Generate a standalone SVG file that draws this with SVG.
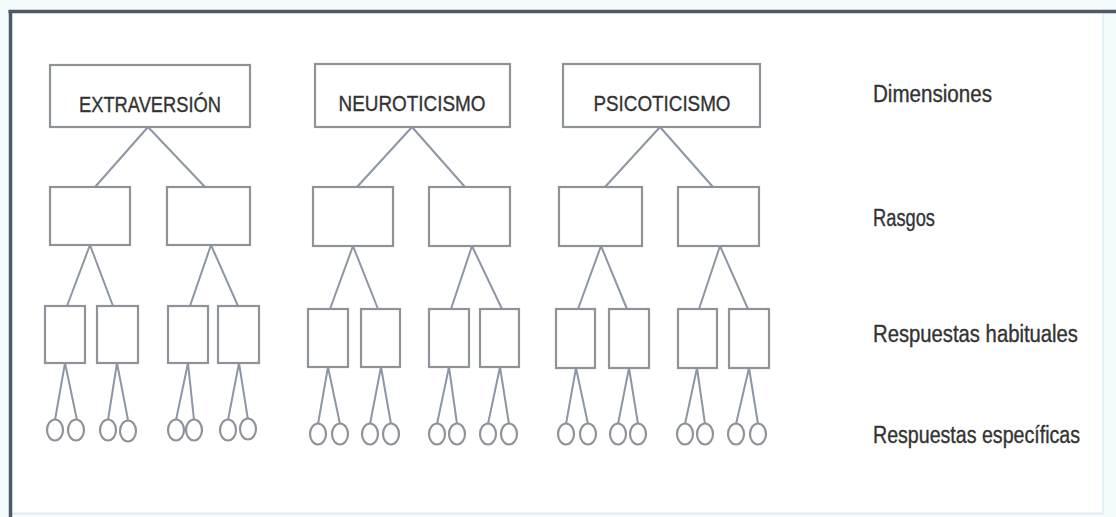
<svg xmlns="http://www.w3.org/2000/svg" width="1116" height="517" viewBox="0 0 1116 517">
<style>
.bx{fill:#ffffff;stroke:#8e9299;stroke-width:2.2}
.ln{stroke:#8c96a4;stroke-width:2;fill:none}
.ci{fill:#ffffff;stroke:#8e9299;stroke-width:2.2}
.t{font-family:"Liberation Sans",Arial,sans-serif;fill:#333333;stroke:#333333;stroke-width:0.35}
.tt{font-size:22px}
.lb{font-size:23px}
</style>
<rect x="0" y="0" width="1116" height="517" fill="#f4fbfd"/>
<rect x="10.5" y="11.5" width="1092" height="502" fill="#ffffff"/>
<line x1="1103" y1="12" x2="1103" y2="514" stroke="#e4f2f8" stroke-width="2"/>
<line x1="10" y1="513.5" x2="1103" y2="513.5" stroke="#dcecf3" stroke-width="2"/>
<line x1="8.5" y1="11.5" x2="1116" y2="11.5" stroke="#4c5a68" stroke-width="3.5"/>
<line x1="10.5" y1="10" x2="10.5" y2="517" stroke="#4c5a68" stroke-width="3.5"/>

<g id="connectors">
<path class="ln" d="M148 127L95 187M148 127L205 187"/>
<path class="ln" d="M412 127L357 187M412 127L465 187"/>
<path class="ln" d="M660 127L605 187M660 127L713 187"/>
<path class="ln" d="M90 245L67 306M90 245L113 306M211 245L190 306M211 245L238 306"/>
<path class="ln" d="M353 246L330 309M353 246L378 309M472 246L451 309M472 246L502 309"/>
<path class="ln" d="M601 246L578 309M601 246L627 309M720 246L699 309M720 246L748 309"/>
<path class="ln" d="M65 363L55 420M65 363L77 420M117 363L108 420M117 363L128 420M188 363L176 420M188 363L194 420M239 363L228 420M239 363L248 420"/>
<path class="ln" d="M328 367L318 424M328 367L340 424M381 367L370 424M381 367L391 424M449 367L437 424M449 367L457 424M500 367L488 424M500 367L509 424"/>
<path class="ln" d="M576 368L566 424M576 368L588 424M629 368L618 424M629 368L638 424M697 368L685 424M697 368L705 424M749 368L736 424M749 368L758 424"/>
</g>

<g id="extraversion">
<rect class="bx" x="50" y="65" width="200" height="62"/>
<text class="t tt" x="150" y="112" text-anchor="middle" textLength="142" lengthAdjust="spacingAndGlyphs">EXTRAVERSIÓN</text>
</g>
<g id="neuroticismo">
<rect class="bx" x="315" y="64" width="195" height="63"/>
<text class="t tt" x="412" y="111" text-anchor="middle" textLength="147" lengthAdjust="spacingAndGlyphs">NEUROTICISMO</text>
</g>
<g id="psicoticismo">
<rect class="bx" x="563" y="64" width="197" height="63"/>
<text class="t tt" x="662" y="111" text-anchor="middle" textLength="137" lengthAdjust="spacingAndGlyphs">PSICOTICISMO</text>
</g>

<g id="rasgos-extraversion">
<rect class="bx" x="50" y="187" width="80" height="58"/>
<rect class="bx" x="167" y="187" width="83" height="58"/>
</g>
<g id="rasgos-neuroticismo">
<rect class="bx" x="313" y="187" width="80" height="59"/>
<rect class="bx" x="429" y="187" width="81" height="59"/>
</g>
<g id="rasgos-psicoticismo">
<rect class="bx" x="559" y="187" width="83" height="59"/>
<rect class="bx" x="678" y="187" width="81" height="59"/>
</g>

<g id="habituales-extraversion">
<rect class="bx" x="45" y="306" width="40" height="57"/>
<rect class="bx" x="97" y="306" width="41" height="57"/>
<rect class="bx" x="168" y="306" width="40" height="57"/>
<rect class="bx" x="218" y="306" width="41" height="57"/>
</g>
<g id="habituales-neuroticismo">
<rect class="bx" x="308" y="309" width="40" height="58"/>
<rect class="bx" x="361" y="309" width="39" height="58"/>
<rect class="bx" x="429" y="309" width="40" height="58"/>
<rect class="bx" x="480" y="309" width="39" height="58"/>
</g>
<g id="habituales-psicoticismo">
<rect class="bx" x="556" y="309" width="39" height="59"/>
<rect class="bx" x="609" y="309" width="40" height="59"/>
<rect class="bx" x="678" y="309" width="39" height="59"/>
<rect class="bx" x="729" y="309" width="40" height="59"/>
</g>

<g id="especificas-extraversion">
<ellipse class="ci" cx="55" cy="430" rx="8" ry="10.5"/>
<ellipse class="ci" cx="76" cy="430" rx="8" ry="10.5"/>
<ellipse class="ci" cx="108" cy="430" rx="8" ry="10.5"/>
<ellipse class="ci" cx="128" cy="431" rx="8" ry="10.5"/>
<ellipse class="ci" cx="176" cy="430" rx="8" ry="10.5"/>
<ellipse class="ci" cx="194" cy="430" rx="8" ry="10.5"/>
<ellipse class="ci" cx="228" cy="430" rx="8" ry="10.5"/>
<ellipse class="ci" cx="248" cy="429" rx="8" ry="10.5"/>
</g>
<g id="especificas-neuroticismo">
<ellipse class="ci" cx="318" cy="434" rx="8" ry="10.5"/>
<ellipse class="ci" cx="340" cy="434" rx="8" ry="10.5"/>
<ellipse class="ci" cx="370" cy="434" rx="8" ry="10.5"/>
<ellipse class="ci" cx="391" cy="434" rx="8" ry="10.5"/>
<ellipse class="ci" cx="437" cy="434" rx="8" ry="10.5"/>
<ellipse class="ci" cx="457" cy="434" rx="8" ry="10.5"/>
<ellipse class="ci" cx="488" cy="434" rx="8" ry="10.5"/>
<ellipse class="ci" cx="509" cy="434" rx="8" ry="10.5"/>
</g>
<g id="especificas-psicoticismo">
<ellipse class="ci" cx="566" cy="434" rx="8" ry="10.5"/>
<ellipse class="ci" cx="588" cy="434" rx="8" ry="10.5"/>
<ellipse class="ci" cx="618" cy="434" rx="8" ry="10.5"/>
<ellipse class="ci" cx="638" cy="434" rx="8" ry="10.5"/>
<ellipse class="ci" cx="685" cy="434" rx="8" ry="10.5"/>
<ellipse class="ci" cx="705" cy="434" rx="8" ry="10.5"/>
<ellipse class="ci" cx="736" cy="434" rx="8" ry="10.5"/>
<ellipse class="ci" cx="758" cy="434" rx="8" ry="10.5"/>
</g>

<g id="levels">
<text class="t lb" x="873" y="102" textLength="119" lengthAdjust="spacingAndGlyphs">Dimensiones</text>
<text class="t lb" x="873" y="226" textLength="62" lengthAdjust="spacingAndGlyphs">Rasgos</text>
<text class="t lb" x="873" y="342" textLength="205" lengthAdjust="spacingAndGlyphs">Respuestas habituales</text>
<text class="t lb" x="873" y="443" textLength="207" lengthAdjust="spacingAndGlyphs">Respuestas específicas</text>
</g>
</svg>
